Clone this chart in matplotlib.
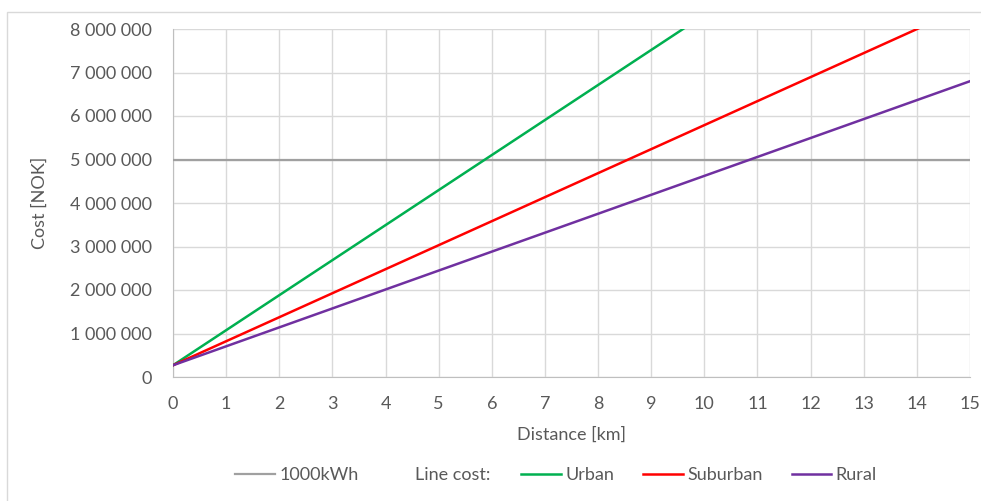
import matplotlib
matplotlib.use("Agg")
import matplotlib.pyplot as plt
from matplotlib.patches import Rectangle
from matplotlib.ticker import FuncFormatter

plt.rcParams['font.family'] = ['Lato', 'DejaVu Sans']

# line ends (cost in NOK at 0 and 15 km)
distance = [0, 15]
urban = [270000, 12350000]
suburban = [270000, 8550000]
rural = [270000, 6800000]
limit_1000kwh = [5000000, 5000000]

x_ticks = list(range(0, 16))
y_ticks = [0, 1000000, 2000000, 3000000, 4000000, 5000000, 6000000, 7000000, 8000000]

text_col = '#595959'
grid_col = '#d9d9d9'
fs = 13


def space_thousands(v, pos):
    return f'{int(v):,}'.replace(',', ' ')


W, H = 981, 501
fig = plt.figure(figsize=(W / 100, H / 100), dpi=100)
ax = fig.add_axes([173 / W, 1 - 377 / H, (970 - 173) / W, (377 - 29) / H])

# outer chart frame (cut off at right/bottom in the original screenshot)
fig.patches.append(Rectangle((7 / W, -0.1), 1.2, 1 - 12 / H + 0.1, transform=fig.transFigure,
                             fill=False, edgecolor=grid_col, linewidth=1))

ax.plot(distance, limit_1000kwh, color='#a0a0a0', lw=1.6, label='1000kWh', zorder=3)
ax.plot(distance, urban, color='#00b050', lw=1.8, label='Urban', zorder=4)
ax.plot(distance, suburban, color='#ff0000', lw=1.8, label='Suburban', zorder=4)
ax.plot(distance, rural, color='#7030a0', lw=1.8, label='Rural', zorder=4)

ax.set_xlim(0, 15)
ax.set_ylim(0, 8000000)
ax.set_xticks(x_ticks)
ax.set_yticks(y_ticks)
ax.yaxis.set_major_formatter(FuncFormatter(space_thousands))
ax.grid(True, color=grid_col, lw=1)
ax.set_axisbelow(True)
for s in ['top', 'right']:
    ax.spines[s].set_visible(False)
for s in ['left', 'bottom']:
    ax.spines[s].set_color('#bfbfbf')
ax.tick_params(length=0, colors=text_col, labelsize=fs)
ax.tick_params(axis='x', pad=14)
ax.tick_params(axis='y', pad=15)

ax.set_xlabel('Distance [km]', color=text_col, fontsize=fs, labelpad=10)
ax.set_ylabel('Cost [NOK]', color=text_col, fontsize=fs, labelpad=16)

h, l = ax.get_legend_handles_labels()
leg_kw = dict(loc='center left', frameon=False, fontsize=fs, handlelength=2.2,
              handletextpad=0.25, columnspacing=1.6, labelcolor=text_col,
              borderpad=0, borderaxespad=0)
fig.legend(h[:1], l[:1], bbox_to_anchor=(235 / W, 1 - 475 / H), ncol=1, **leg_kw)
fig.text(415 / W, 1 - 475 / H, 'Line cost:', color=text_col, fontsize=fs, va='center', ha='left')
fig.legend(h[1:], l[1:], bbox_to_anchor=(521 / W, 1 - 475 / H), ncol=3, **leg_kw)

fig.savefig('out.png', dpi=100)
